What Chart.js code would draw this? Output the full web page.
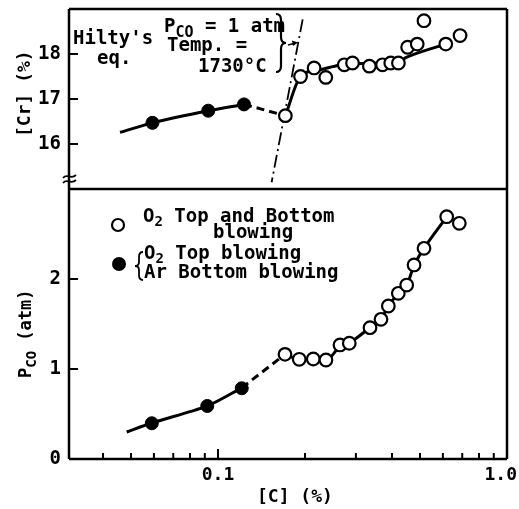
<!DOCTYPE html>
<html><head><meta charset="utf-8">
<script src="https://cdn.jsdelivr.net/npm/chart.js@4"></script>
<style>html,body{margin:0;padding:0;background:#fff;overflow:hidden}#wrap{width:519px;height:509px;position:relative}</style>
</head><body><div id="wrap"><canvas id="c" width="519" height="509"></canvas></div>
<script>
// ---- data ----
// upper panel: [Cr] (%)
const crOpenC = [0.171,0.193,0.215,0.236,0.2735,0.292,0.334,0.371,0.396,0.421,0.453,0.489,0.516,0.614,0.688];
const crOpen  = [16.63,17.50,17.69,17.48,17.76,17.80,17.73,17.76,17.80,17.80,18.15,18.22,18.74,18.22,18.41];
const crFillC = [0.0593,0.0925,0.123];
const crFill  = [16.47,16.74,16.88];
const crFitAC = [0.0458,0.0593,0.0925,0.123];
const crFitA  = [16.26,16.47,16.74,16.88];
const crFitBC = [0.123,0.171];
const crFitB  = [16.88,16.63];
const crFitCC = [0.171,0.193,0.2254,0.263,0.33,0.42,0.45,0.614];
const crFitC  = [16.63,17.50,17.65,17.75,17.79,17.83,17.93,18.22];
const hiltyC  = [0.1963,0.1533];
const hiltyCr = [18.77,15.15];
// lower panel: P_CO (atm)
const pcoOpenC = [0.1705,0.191,0.2136,0.2363,0.2643,0.2846,0.3357,0.3664,0.3885,0.4206,0.4497,0.4768,0.5162,0.6186,0.6839];
const pcoOpen  = [1.163,1.108,1.111,1.10,1.267,1.286,1.459,1.552,1.70,1.841,1.933,2.156,2.341,2.692,2.619];
const pcoFillC = [0.059,0.0918,0.1208];
const pcoFill  = [0.397,0.589,0.786];
const pcoFitAC = [0.0483,0.059,0.0918,0.1208];
const pcoFitA  = [0.30,0.40,0.59,0.79];
const pcoFitBC = [0.1208,0.1705];
const pcoFitB  = [0.79,1.163];
const pcoFitCC = [0.1705,0.191,0.2136,0.2363,0.2643,0.2846,0.3357,0.3664,0.3885,0.4206,0.4497,0.4768,0.5162,0.6186];
const pcoFitC  = [1.163,1.11,1.11,1.10,1.25,1.29,1.46,1.55,1.70,1.84,1.93,2.15,2.34,2.69];
// ticks
const xTickVals = [0.04,0.05,0.06,0.07,0.08,0.09,0.1,0.2,0.3,0.4,0.5,0.6,0.7,0.8,0.9,1.0];
const xMajorVals = [0.1,1.0];
const xLabelVals = [0.1,1.0];
const xLabelText = ['0.1','1.0'];
const crTicks = [16,17,18];
const pcoTicks = [0,1,2];

const FONT = "'DejaVu Sans Mono', monospace";
const fnt = (s) => `bold ${s}px ${FONT}`;
const mk = (xs, ys) => xs.map((x, i) => ({x, y: ys[i]}));

const openPt = {showLine:false, pointRadius:6.3, pointBackgroundColor:'#fff', pointBorderColor:'#000', pointBorderWidth:2.2, order:0};
const fillPt = {showLine:false, pointRadius:6.5, pointBackgroundColor:'#000', pointBorderColor:'#000', pointBorderWidth:1, order:0};
const fit = {showLine:true, pointRadius:0, borderColor:'#000', borderWidth:3, fill:false, order:1, cubicInterpolationMode:'monotone'};

function txt(ctx, parts, x, y) {
  let cx = x;
  for (const [t, size, dy] of parts) {
    ctx.font = fnt(size);
    ctx.fillText(t, cx, y + (dy || 0));
    cx += ctx.measureText(t).width;
  }
}

const deco = {
  id: 'deco',
  afterDraw(c) {
    const ctx = c.ctx, ca = c.chartArea, xs = c.scales.x, yl = c.scales.y, yu = c.scales.y2;
    ctx.save();
    ctx.strokeStyle = '#000'; ctx.fillStyle = '#000'; ctx.lineCap = 'butt';
    // frame
    ctx.lineWidth = 2.5;
    ctx.beginPath();
    ctx.moveTo(ca.left, ca.top); ctx.lineTo(ca.right, ca.top);
    ctx.moveTo(ca.right, ca.top); ctx.lineTo(ca.right, ca.bottom);
    ctx.moveTo(ca.left, ca.bottom); ctx.lineTo(ca.right, ca.bottom);
    ctx.moveTo(ca.left, ca.top); ctx.lineTo(ca.left, ca.bottom);
    ctx.moveTo(ca.left, yl.top); ctx.lineTo(ca.right, yl.top);
    ctx.stroke();
    // axis break
    ctx.lineWidth = 1.8;
    for (const by of [yu.bottom - 13, yu.bottom - 8]) {
      ctx.beginPath();
      ctx.moveTo(ca.left - 6, by + 2);
      ctx.bezierCurveTo(ca.left - 2, by - 3, ca.left + 2, by + 4, ca.left + 7, by - 1);
      ctx.stroke();
    }
    // ticks
    ctx.lineWidth = 2;
    ctx.beginPath();
    for (const v of crTicks) { const p = yu.getPixelForValue(v); ctx.moveTo(ca.left, p); ctx.lineTo(ca.left + 9, p); }
    for (const v of pcoTicks) { const p = yl.getPixelForValue(v); ctx.moveTo(ca.left, p); ctx.lineTo(ca.left + 9, p); }
    for (const v of xTickVals) {
      const p = xs.getPixelForValue(v);
      const L = xMajorVals.includes(v) ? 10 : 6;
      ctx.moveTo(p, ca.bottom); ctx.lineTo(p, ca.bottom - L);
    }
    ctx.stroke();
    // x tick labels
    ctx.font = fnt(18); ctx.textAlign = 'center'; ctx.textBaseline = 'alphabetic';
    xLabelVals.forEach((v, i) => {
      const w = ctx.measureText(xLabelText[i]).width;
      const p = Math.min(xs.getPixelForValue(v), c.width - w / 2 - 2);
      ctx.fillText(xLabelText[i], p, ca.bottom + 21);
    });
    ctx.textAlign = 'left';
    // x title
    txt(ctx, [['[C] (%)', 18]], 257, 502);
    // y titles (rotated)
    ctx.save(); ctx.translate(30, 137); ctx.rotate(-Math.PI / 2);
    txt(ctx, [['[Cr] (%)', 18]], 0, 0); ctx.restore();
    ctx.save(); ctx.translate(31, 378); ctx.rotate(-Math.PI / 2);
    txt(ctx, [['P', 17], ['CO', 14, 5], [' (atm)', 17]], 0, 0); ctx.restore();
    // Hilty annotation
    txt(ctx, [["Hilty's", 19]], 73, 44);
    txt(ctx, [['eq.', 19]], 97, 64);
    txt(ctx, [['P', 19], ['CO', 15, 5], [' = 1 atm', 19]], 164, 32);
    txt(ctx, [['Temp. =', 19]], 167, 51);
    txt(ctx, [['1730°C', 19]], 198, 72);
    ctx.lineWidth = 2.2;
    ctx.beginPath();
    ctx.moveTo(276, 14); ctx.quadraticCurveTo(281, 14, 281, 20); ctx.lineTo(281, 37);
    ctx.quadraticCurveTo(281, 43, 286, 43); ctx.quadraticCurveTo(281, 43, 281, 49);
    ctx.lineTo(281, 66); ctx.quadraticCurveTo(281, 72, 276, 72);
    ctx.stroke();
    ctx.lineWidth = 1.8;
    ctx.beginPath(); ctx.moveTo(288, 45); ctx.lineTo(296, 43); ctx.stroke();
    ctx.beginPath(); ctx.moveTo(298, 42.5); ctx.lineTo(292, 40.5); ctx.lineTo(293, 46); ctx.closePath(); ctx.fill();
    // legend
    ctx.lineWidth = 2.2;
    ctx.beginPath(); ctx.arc(118, 225, 6, 0, Math.PI * 2); ctx.fillStyle = '#fff'; ctx.fill(); ctx.stroke();
    ctx.fillStyle = '#000';
    ctx.beginPath(); ctx.arc(119, 264, 7, 0, Math.PI * 2); ctx.fill();
    txt(ctx, [['O', 19], ['2', 14, 4], [' Top and Bottom', 19]], 143, 222);
    txt(ctx, [['blowing', 19]], 213, 238);
    txt(ctx, [['O', 19], ['2', 14, 4], [' Top blowing', 19]], 144, 259);
    txt(ctx, [['Ar Bottom blowing', 19]], 144, 278);
    ctx.lineWidth = 1.8;
    ctx.beginPath();
    ctx.moveTo(143, 252); ctx.quadraticCurveTo(139, 252, 139, 257); ctx.lineTo(139, 262);
    ctx.quadraticCurveTo(139, 266, 135, 266); ctx.quadraticCurveTo(139, 266, 139, 270);
    ctx.lineTo(139, 275); ctx.quadraticCurveTo(139, 280, 143, 280);
    ctx.stroke();
    ctx.restore();
  }
};

const noPad = s => { s.paddingTop = 0; s.paddingBottom = 0; s.paddingLeft = 0; s.paddingRight = 0; };

new Chart(document.getElementById('c'), {
  type: 'scatter',
  data: {
    datasets: [
      {...openPt, data: mk(crOpenC, crOpen), yAxisID: 'y2'},
      {...fillPt, data: mk(crFillC, crFill), yAxisID: 'y2'},
      {...openPt, data: mk(pcoOpenC, pcoOpen), yAxisID: 'y'},
      {...fillPt, data: mk(pcoFillC, pcoFill), yAxisID: 'y'},
      {...fit, data: mk(crFitAC, crFitA), yAxisID: 'y2'},
      {...fit, data: mk(crFitBC, crFitB), yAxisID: 'y2', borderDash: [8, 5]},
      {...fit, data: mk(crFitCC, crFitC), yAxisID: 'y2'},
      {...fit, data: mk(hiltyC, hiltyCr), yAxisID: 'y2', borderWidth: 1.8, borderDash: [13, 4, 2, 4]},
      {...fit, data: mk(pcoFitAC, pcoFitA), yAxisID: 'y', cubicInterpolationMode: 'default', tension: 0.3},
      {...fit, data: mk(pcoFitBC, pcoFitB), yAxisID: 'y', borderDash: [8, 5]},
      {...fit, data: mk(pcoFitCC, pcoFitC), yAxisID: 'y'}
    ]
  },
  options: {
    responsive: false, animation: false, devicePixelRatio: 1, events: [],
    layout: {padding: {left: 0, top: 9, right: 12, bottom: 0}},
    plugins: {legend: {display: false}, tooltip: {enabled: false}},
    scales: {
      x: {type: 'logarithmic', min: 0.0305, max: 1.0, position: 'bottom',
          ticks: {display: false}, grid: {display: false, drawTicks: false}, border: {display: false},
          afterFit: s => { s.height = 50; noPad(s); }},
      y: {type: 'linear', min: 0, max: 3, position: 'left', stack: 'v', stackWeight: 3, weight: 0,
          afterBuildTicks: s => { s.ticks = pcoTicks.map(v => ({value: v})); },
          ticks: {color: '#000', padding: 8, font: {family: FONT, size: 19, weight: 'bold'}},
          grid: {display: false, drawTicks: false}, border: {display: false},
          afterFit: s => { s.width = 69; noPad(s); }},
      y2: {type: 'linear', min: 15, max: 19, position: 'left', stack: 'v', stackWeight: 2, weight: 1,
          afterBuildTicks: s => { s.ticks = crTicks.map(v => ({value: v})); },
          ticks: {color: '#000', padding: 8, font: {family: FONT, size: 19, weight: 'bold'}},
          grid: {display: false, drawTicks: false}, border: {display: false},
          afterFit: s => { s.width = 69; noPad(s); }}
    }
  },
  plugins: [deco]
});
</script></body></html>
